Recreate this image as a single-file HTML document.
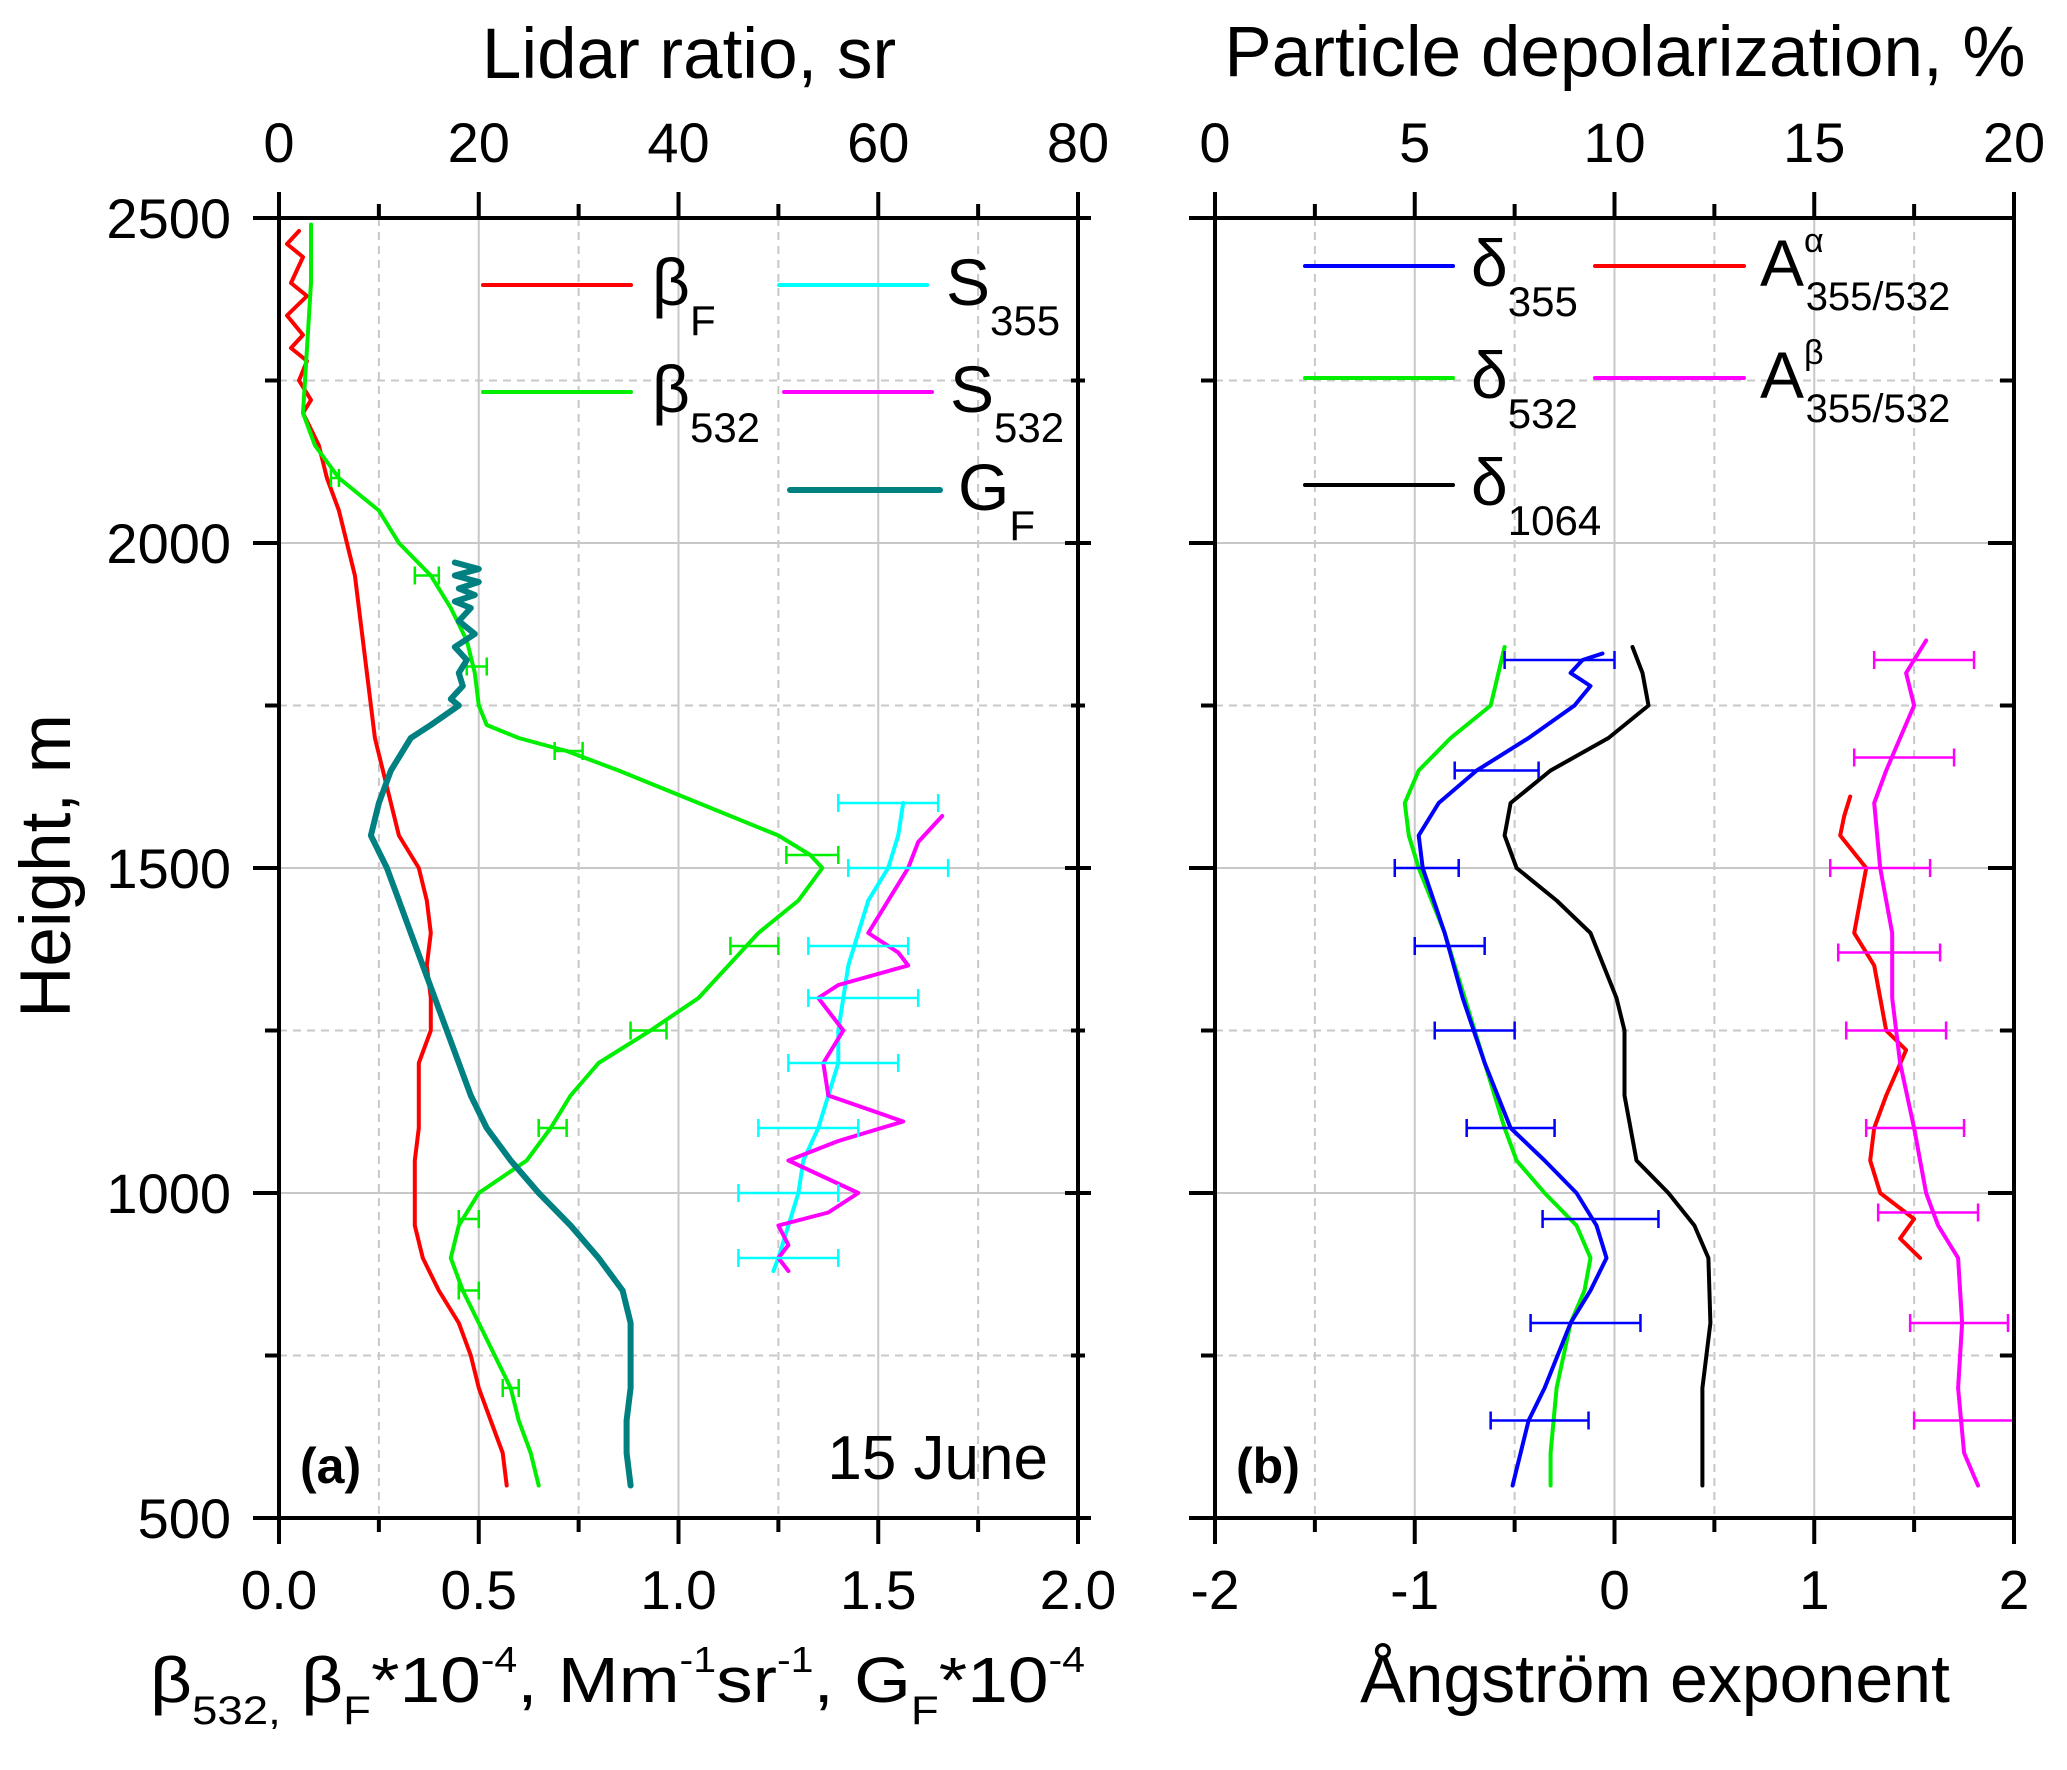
<!DOCTYPE html>
<html><head><meta charset="utf-8"><style>
html,body{margin:0;padding:0;background:#fff;}
svg{display:block;font-family:"Liberation Sans",Arial,sans-serif;}
</style></head><body>
<svg id="chart" width="2067" height="1770" viewBox="0 0 2067 1770" xmlns="http://www.w3.org/2000/svg">
<g id="grid"></g><g id="series"></g><g id="axes"></g><g id="labels"></g>
</svg>
<script>
// ---------- Panel (a) data ----------
const hBF=[2480,2460,2440,2400,2380,2350,2320,2300,2280,2250,2220,2200,2150,2100,2050,2000,1950,1900,1850,1800,1750,1700,1650,1600,1550,1500,1450,1400,1350,1300,1250,1200,1150,1100,1050,1000,950,900,850,800,750,700,650,600,550];
const vBF=[0.05,0.02,0.06,0.03,0.07,0.02,0.06,0.03,0.07,0.05,0.08,0.06,0.1,0.12,0.15,0.17,0.19,0.2,0.21,0.22,0.23,0.24,0.26,0.28,0.3,0.35,0.37,0.38,0.37,0.38,0.38,0.35,0.35,0.35,0.34,0.34,0.34,0.36,0.4,0.45,0.48,0.5,0.53,0.56,0.57];
const hB532=[2490,2400,2300,2200,2150,2100,2050,2000,1950,1900,1850,1800,1750,1720,1700,1680,1650,1600,1550,1520,1500,1450,1400,1300,1250,1200,1150,1100,1050,1000,950,900,850,800,750,700,650,600,550];
const vB532=[0.08,0.08,0.07,0.06,0.09,0.15,0.25,0.3,0.38,0.43,0.47,0.49,0.5,0.52,0.6,0.72,0.85,1.05,1.25,1.33,1.36,1.3,1.2,1.05,0.93,0.8,0.73,0.68,0.62,0.5,0.45,0.43,0.46,0.5,0.54,0.58,0.6,0.63,0.65];
const hGF=[1970,1960,1950,1940,1930,1920,1910,1900,1880,1860,1840,1820,1800,1780,1760,1750,1720,1700,1650,1600,1550,1500,1450,1400,1350,1300,1250,1200,1150,1100,1050,1000,950,900,850,800,750,700,650,600,550];
const vGF=[0.44,0.5,0.44,0.5,0.45,0.49,0.44,0.48,0.45,0.49,0.44,0.47,0.45,0.46,0.43,0.45,0.38,0.33,0.28,0.25,0.23,0.27,0.3,0.33,0.36,0.39,0.42,0.45,0.48,0.52,0.58,0.65,0.73,0.8,0.86,0.88,0.88,0.88,0.87,0.87,0.88];
const hS355=[1600,1550,1500,1450,1400,1350,1300,1250,1200,1150,1100,1050,1000,950,900,880];
const vS355=[62.5,62,61,59,58,57,56.5,56,56,55,54,52.5,52,51,50,49.5];
const hS532=[1580,1540,1500,1450,1400,1370,1350,1320,1300,1250,1200,1150,1110,1080,1050,1000,970,950,920,900,880];
const vS532=[66.4,64,63,61,59,62,63,56,54,56.5,54.5,55,62.5,56,51,58,55,50,51,50,51];
const ebB532=[[2100,0.13,0.15],[1950,0.34,0.4],[1810,0.47,0.52],[1680,0.69,0.76],[1520,1.27,1.4],[1380,1.13,1.25],[1250,0.88,0.97],[1100,0.65,0.72],[960,0.45,0.5],[850,0.45,0.5],[700,0.56,0.6]];
const ebS355=[[1600,56,66],[1500,57,67],[1380,53,63],[1300,53,64],[1200,51,62],[1100,48,58],[1000,46,56],[900,46,56]];
// ---------- Panel (b) data ----------
const hD355=[1830,1820,1800,1780,1750,1700,1650,1600,1550,1500,1400,1300,1200,1100,1050,1000,950,900,850,800,700,650,550];
const vD355=[9.7,9.2,8.9,9.4,9.0,7.85,6.55,5.6,5.1,5.2,5.75,6.2,6.75,7.4,8.25,9.05,9.55,9.8,9.4,8.9,8.25,7.85,7.45];
const hD532=[1840,1750,1700,1650,1600,1550,1500,1400,1300,1200,1100,1050,1000,950,900,850,800,700,600,550];
const vD532=[7.25,6.9,5.9,5.1,4.75,4.85,5.1,5.75,6.25,6.75,7.25,7.55,8.25,9.05,9.4,9.25,8.9,8.55,8.4,8.4];
const hD1064=[1840,1800,1750,1700,1650,1600,1550,1500,1450,1400,1300,1250,1150,1050,1000,950,900,800,700,600,550];
const vD1064=[10.45,10.7,10.85,9.85,8.4,7.4,7.25,7.55,8.55,9.4,10.05,10.25,10.25,10.55,11.35,12.0,12.35,12.4,12.2,12.2,12.2];
const hAa=[1610,1580,1550,1500,1450,1400,1350,1250,1220,1150,1100,1050,1000,960,930,900];
const vAa=[1.18,1.15,1.13,1.26,1.23,1.2,1.3,1.36,1.46,1.36,1.3,1.28,1.33,1.5,1.43,1.53];
const hAb=[1850,1800,1750,1700,1650,1600,1500,1400,1300,1200,1100,1000,950,900,800,700,600,550];
const vAb=[1.56,1.46,1.5,1.43,1.36,1.3,1.33,1.39,1.39,1.43,1.5,1.56,1.62,1.72,1.74,1.72,1.75,1.82];
const ebD355=[[1820,-0.55,0],[1650,-0.8,-0.38],[1500,-1.1,-0.78],[1380,-1.0,-0.65],[1250,-0.9,-0.5],[1100,-0.74,-0.3],[960,-0.36,0.22],[800,-0.42,0.13],[650,-0.62,-0.13]];
const ebAb=[[1820,1.3,1.8],[1670,1.2,1.7],[1500,1.08,1.58],[1370,1.12,1.63],[1250,1.16,1.66],[1100,1.26,1.75],[970,1.32,1.82],[800,1.48,1.97],[650,1.5,2.0]];
// ---------- ticks ----------
const heightTicks=[500,1000,1500,2000,2500];
const xaTicks=["0.0","0.5","1.0","1.5","2.0"];
const lrTicks=["0","20","40","60","80"];
const angTicks=["-2","-1","0","1","2"];
const depTicks=["0","5","10","15","20"];

const NS="http://www.w3.org/2000/svg";
const AL=279,AR=1078,BL=1215,BR=2014,T=218,B=1518;
function yH(h){return T+(2500-h)*(B-T)/2000;}
function xA(v){return AL+v*(AR-AL)/2;}
function xLR(s){return xA(s/40);}
function xB(a){return BL+(a+2)*(BR-BL)/4;}
function xDep(p){return xB(p/5-2);}
function mk(tag,attrs,parent){const e=document.createElementNS(NS,tag);for(const k in attrs)e.setAttribute(k,attrs[k]);document.getElementById(parent).appendChild(e);return e;}
function line(x1,y1,x2,y2,stroke,w,parent,dash){const e=mk('line',{x1,y1,x2,y2,stroke,'stroke-width':w},parent);if(dash)e.setAttribute('stroke-dasharray',dash);return e;}
function txt(x,y,s,size,anchor,parent){const e=mk('text',{x,y,'font-size':size,'text-anchor':anchor||'start'},parent);e.innerHTML=s;return e;}

// grid
for(let i=0;i<=8;i++){const h=500+i*250;if(h==500||h==2500)continue;const y=yH(h);const major=i%2==0;
 let g1=line(AL,y,AR,y,'#c8c8c8',2,'grid',major?null:'8 6');
 let g2=line(BL,y,BR,y,'#c8c8c8',2,'grid',major?null:'8 6');}
for(let i=1;i<8;i++){const major=i%2==0;
 let g1=line(xA(i*0.25),T,xA(i*0.25),B,'#c8c8c8',2,'grid',major?null:'8 6');
 let g2=line(xB(-2+i*0.5),T,xB(-2+i*0.5),B,'#c8c8c8',2,'grid',major?null:'8 6');}

function series(hs,vs,fx,color,w,name){const pts=hs.map((h,i)=>fx(vs[i]).toFixed(1)+','+yH(h).toFixed(1)).join(' ');
 const e=mk('polyline',{points:pts,fill:'none',stroke:color,'stroke-width':w,'stroke-linejoin':'round','stroke-linecap':'round'},'series');
 }
function ebars(arr,fx,color,name){arr.forEach(d=>{const y=yH(d[0]),x1=fx(d[1]),x2=fx(d[2]);
 const g=mk('path',{d:`M${x1},${y}H${x2}M${x1},${y-9}V${y+9}M${x2},${y-9}V${y+9}`,stroke:color,'stroke-width':2.5,fill:'none'},'series');
 });}

series(hBF,vBF,xA,'#ff0000',4,'beta-f-line');
series(hB532,vB532,xA,'#00ee00',4,'beta-532-line');
ebars(ebB532,xA,'#00ee00','beta-532-error-bar');
series(hGF,vGF,xA,'#008080',6,'g-f-line');
series(hS355,vS355,xLR,'#00ffff',4,'s-355-line');
series(hS532,vS532,xLR,'#ff00ff',4,'s-532-line');
ebars(ebS355,xLR,'#00ffff','s-355-error-bar');
series(hD532,vD532,xDep,'#00ee00',4,'delta-532-line');
series(hD355,vD355,xDep,'#0000ff',4,'delta-355-line');
ebars(ebD355,xB,'#0000ff','delta-355-error-bar');
series(hD1064,vD1064,xDep,'#000000',4,'delta-1064-line');
series(hAa,vAa,xB,'#ff0000',4,'angstrom-alpha-line');
series(hAb,vAb,xB,'#ff00ff',4,'angstrom-beta-line');
ebars(ebAb,xB,'#ff00ff','angstrom-beta-error-bar');

// axes frames
[[AL,AR,'panel-a-frame'],[BL,BR,'panel-b-frame']].forEach(p=>{const r=mk('rect',{x:p[0],y:T,width:p[1]-p[0],height:B-T,fill:'none',stroke:'#000','stroke-width':4},'axes');
 });
// ticks
for(let i=0;i<=8;i++){const len=i%2==0?26:14;
 const xa=AL+i*(AR-AL)/8, xb=BL+i*(BR-BL)/8;
 line(xa,B,xa,B+len,'#000',4,'axes');line(xa,T,xa,T-len,'#000',4,'axes');
 line(xb,B,xb,B+len,'#000',4,'axes');line(xb,T,xb,T-len,'#000',4,'axes');
 const y=T+i*(B-T)/8;
 line(AL,y,AL-len,y,'#000',4,'axes');line(AR,y,AR-len/2,y,'#000',4,'axes');line(AR,y,AR+len/2,y,'#000',4,'axes');
 line(BL,y,BL-len,y,'#000',4,'axes');line(BR,y,BR-len,y,'#000',4,'axes');}
// tick labels
heightTicks.forEach(h=>{const e=txt(231,yH(h)+20,String(h),56,'end','labels');});
xaTicks.forEach((s,i)=>{const e=txt(xA(i*0.5),1609,s,55,'middle','labels');});
lrTicks.forEach((s,i)=>{const e=txt(xLR(i*20),162,s,56,'middle','labels');});
angTicks.forEach((s,i)=>{const e=txt(xB(i-2),1609,s,55,'middle','labels');});
depTicks.forEach((s,i)=>{const e=txt(xDep(i*5),162,s,56,'middle','labels');});
</script>
<script>
(function(){
function T(x,y,html,size,anchor,name,extra){const e=document.createElementNS("http://www.w3.org/2000/svg",'text');e.setAttribute('x',x);e.setAttribute('y',y);e.setAttribute('font-size',size);e.setAttribute('text-anchor',anchor);e.innerHTML=html;
if(extra)for(const k in extra)e.setAttribute(k,extra[k]);


document.getElementById('labels').appendChild(e);return e;}
const sub='<tspan font-size="40" dy="22">',sup='<tspan font-size="36" dy="-30">',end='</tspan>';
T(689,78,'Lidar ratio, sr',71,'middle','top-left-axis-title');
T(1625,76,'Particle depolarization, %',71,'middle','top-right-axis-title');
T(1655,1702,'Ångström exponent',68,'middle','angstrom-axis-title');
T(70,866,'Height, m',71,'middle','height-axis-title',{transform:'rotate(-90 70 866)'});
T(150,1702,'β'+sub+'532,'+end+'<tspan dy="-22">  β</tspan>'+sub+'F'+end+'<tspan dy="-22">*10</tspan>'+sup+'-4'+end+'<tspan dy="30">, Mm</tspan>'+sup+'-1'+end+'<tspan dy="30">sr</tspan>'+sup+'-1'+end+'<tspan dy="30">, G</tspan>'+sub+'F'+end+'<tspan dy="-22">*10</tspan>'+sup+'-4'+end,64,'start','bottom-left-axis-title',{textLength:935,lengthAdjust:'spacingAndGlyphs'});
T(300,1483,'(a)',50,'start','panel-a-label',{'font-weight':'bold'});
T(1236,1483,'(b)',50,'start','panel-b-label',{'font-weight':'bold'});
T(1048,1479,'15 June',62,'end','date-label');
// legends
const L=[[483,631,285,'#ff0000',4,652,'β',"F",'legend-beta-f'],[483,631,392,'#00ee00',4,652,'β','532','legend-beta-532'],
[779,927,285,'#00ffff',4,946,'S','355','legend-s-355'],[784,932,392,'#ff00ff',4,950,'S','532','legend-s-532'],[790,940,490,'#008080',6,958,'G','F','legend-g-f'],
[1305,1453,266,'#0000ff',4,1471,'δ','355','legend-delta-355'],[1305,1453,378,'#00ee00',4,1471,'δ','532','legend-delta-532'],[1305,1453,485,'#000000',4,1471,'δ','1064','legend-delta-1064']];
L.forEach(l=>{const ln=document.createElementNS("http://www.w3.org/2000/svg",'line');
ln.setAttribute('x1',l[0]);ln.setAttribute('x2',l[1]);ln.setAttribute('y1',l[2]);ln.setAttribute('y2',l[2]);ln.setAttribute('stroke',l[3]);ln.setAttribute('stroke-width',l[4]);ln.setAttribute('stroke-linecap','round');


document.getElementById('labels').appendChild(ln);
T(l[5],l[2]+20,l[6]+'<tspan font-size="42" dy="30">'+l[7]+'</tspan>',66,'start',l[8]+'-text');});
[[266,'#ff0000','α','legend-angstrom-alpha'],[378,'#ff00ff','β','legend-angstrom-beta']].forEach(a=>{
const ln=document.createElementNS("http://www.w3.org/2000/svg",'line');
ln.setAttribute('x1',1595);ln.setAttribute('x2',1744);ln.setAttribute('y1',a[0]);ln.setAttribute('y2',a[0]);ln.setAttribute('stroke',a[1]);ln.setAttribute('stroke-width',4);ln.setAttribute('stroke-linecap','round');


document.getElementById('labels').appendChild(ln);
T(1760,a[0]+20,'A<tspan font-size="34" dy="-34">'+a[2]+'</tspan><tspan font-size="40" dx="-18" dy="58">355/532</tspan>',66,'start',a[3]+'-text');});
})();
</script>
</body></html>
